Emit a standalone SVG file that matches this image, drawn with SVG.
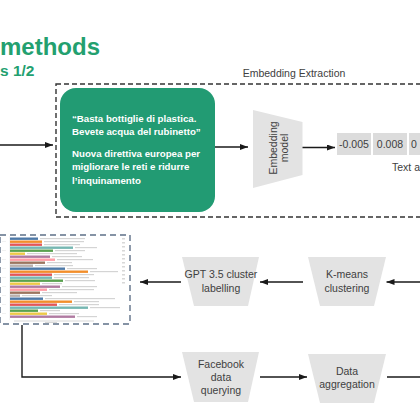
<svg xmlns="http://www.w3.org/2000/svg" width="420" height="420" viewBox="0 0 420 420">
<defs>
<marker id="ah" markerWidth="8" markerHeight="6" refX="8" refY="3" orient="auto" markerUnits="userSpaceOnUse">
<path d="M0,0 L8,3 L0,6 z" fill="#1a1a1a"/>
</marker>
<style>
.t{font-family:"Liberation Sans",Arial,sans-serif;fill:#404040;font-size:10.5px;text-anchor:middle}
.trap{fill:#e3e3e3}
.cell{fill:#dcdcdc}
.con{stroke:#1a1a1a;stroke-width:1.4;fill:none}
.arr{marker-end:url(#ah)}
.title{font-family:"Liberation Sans",Arial,sans-serif;font-weight:bold;fill:#23a06f}
.gt{font-family:"Liberation Sans",Arial,sans-serif;font-weight:bold;fill:#ffffff;font-size:9.7px}
.lbl{fill:#d4d4d4}
</style>
</defs>
<rect width="420" height="420" fill="#ffffff"/>

<g id="title">
<text class="title" x="0" y="55" font-size="24">methods</text>
<text class="title" x="0" y="76" font-size="15.5">s 1/2</text>
</g>

<g id="embedding-extraction">
<rect x="56" y="84" width="400" height="133" fill="none" stroke="#333" stroke-width="1.4" stroke-dasharray="5,3"/>
<text class="t" x="294" y="77" font-size="10">Embedding Extraction</text>
</g>

<g id="texts-box">
<rect x="60" y="88" width="155" height="124" rx="16" fill="#229b73"/>
<text class="gt" x="72" y="122">“Basta bottiglie di plastica.</text>
<text class="gt" x="72" y="135">Bevete acqua del rubinetto”</text>
<text class="gt" x="72" y="157">Nuova direttiva europea per</text>
<text class="gt" x="72" y="170">migliorare le reti e ridurre</text>
<text class="gt" x="72" y="184">l’inquinamento</text>
</g>

<g id="embedding-model">
<polygon class="trap" points="253,110 302.5,122 302.5,175 253,188"/>
<text class="t" transform="translate(276.5,148) rotate(-90)" font-size="11">Embedding</text>
<text class="t" transform="translate(287.5,148) rotate(-90)" font-size="11">model</text>
</g>

<g id="vector">
<rect class="cell" x="337" y="133" width="34" height="22"/>
<rect class="cell" x="373" y="133" width="34" height="22"/>
<rect class="cell" x="409" y="133" width="20" height="22"/>
<text class="t" x="354" y="147.5" font-size="8.6">-0.005</text>
<text class="t" x="390" y="147.5" font-size="8.6">0.008</text>
<text class="t" x="411" y="147.5" font-size="8.6" style="text-anchor:start">0</text>
<text class="t" x="392" y="171" font-size="9" style="text-anchor:start">Text a</text>
</g>

<g id="chart">
<rect x="0" y="235" width="130" height="89" fill="#ffffff"/>
<g fill="#eeeeee">
<rect x="9" y="236" width="0.6" height="84"/>
<rect x="2" y="241" width="4" height="0.8"/><rect x="2" y="250" width="4" height="0.8"/><rect x="2" y="259" width="4" height="0.8"/><rect x="2" y="268" width="4" height="0.8"/><rect x="2" y="277" width="4" height="0.8"/><rect x="2" y="286" width="4" height="0.8"/><rect x="2" y="295" width="4" height="0.8"/><rect x="2" y="304" width="4" height="0.8"/><rect x="2" y="313" width="4" height="0.8"/>
</g>
<g>
<rect x="10" y="237.5" width="28" height="2.4" fill="#4e79a7"/>
<rect x="10" y="240.5" width="32" height="2.4" fill="#f28e2b"/>
<rect x="10" y="243.5" width="32" height="2.4" fill="#e15759"/>
<rect x="10" y="246.5" width="63" height="2.4" fill="#76b7b2"/>
<rect x="10" y="249.5" width="43" height="2.4" fill="#59a14f"/>
<rect x="10" y="252.5" width="15" height="2.4" fill="#edc948"/>
<rect x="10" y="255.5" width="40" height="2.4" fill="#b07aa1"/>
<rect x="10" y="258.5" width="45" height="2.4" fill="#ff9da7"/>
<rect x="10" y="261.5" width="35" height="2.4" fill="#9c755f"/>
<rect x="10" y="264.5" width="23" height="2.4" fill="#bab0ac"/>
<rect x="10" y="267.5" width="55" height="2.4" fill="#4e79a7"/>
<rect x="10" y="270.5" width="78" height="2.4" fill="#f28e2b"/>
<rect x="10" y="273.5" width="42" height="2.4" fill="#e15759"/>
<rect x="10" y="276.5" width="42" height="2.4" fill="#76b7b2"/>
<rect x="10" y="279.5" width="53" height="2.4" fill="#59a14f"/>
<rect x="10" y="282.5" width="30" height="2.4" fill="#edc948"/>
<rect x="10" y="285.5" width="50" height="2.4" fill="#b07aa1"/>
<rect x="10" y="288.5" width="37" height="2.4" fill="#ff9da7"/>
<rect x="10" y="291.5" width="30" height="2.4" fill="#9c755f"/>
<rect x="10" y="294.5" width="10" height="2.4" fill="#bab0ac"/>
<rect x="10" y="297.5" width="33" height="2.4" fill="#4e79a7"/>
<rect x="10" y="300.5" width="62" height="2.4" fill="#f28e2b"/>
<rect x="10" y="303.5" width="47" height="2.4" fill="#e15759"/>
<rect x="10" y="306.5" width="78" height="2.4" fill="#76b7b2"/>
<rect x="10" y="309.5" width="28" height="2.4" fill="#59a14f"/>
<rect x="10" y="312.5" width="37" height="2.4" fill="#edc948"/>
<rect x="10" y="315.5" width="65" height="2.4" fill="#b07aa1"/>
</g>
<g class="lbl">
<rect x="40" y="238" width="45" height="1.2"/>
<rect x="44" y="241" width="40" height="1.2"/>
<rect x="44" y="244" width="36" height="1.2"/>
<rect x="75" y="247" width="22" height="1.2"/>
<rect x="55" y="250" width="30" height="1.2"/>
<rect x="27" y="253" width="50" height="1.2"/>
<rect x="52" y="256" width="30" height="1.2"/>
<rect x="57" y="259" width="36" height="1.2"/>
<rect x="47" y="262" width="25" height="1.2"/>
<rect x="35" y="265" width="38" height="1.2"/>
<rect x="67" y="268" width="30" height="1.2"/>
<rect x="90" y="271" width="28" height="1.2"/>
<rect x="54" y="274" width="40" height="1.2"/>
<rect x="54" y="277" width="35" height="1.2"/>
<rect x="65" y="280" width="30" height="1.2"/>
<rect x="42" y="283" width="20" height="1.2"/>
<rect x="62" y="286" width="35" height="1.2"/>
<rect x="49" y="289" width="45" height="1.2"/>
<rect x="42" y="292" width="35" height="1.2"/>
<rect x="22" y="295" width="30" height="1.2"/>
<rect x="45" y="298" width="70" height="1.2"/>
<rect x="74" y="301" width="25" height="1.2"/>
<rect x="59" y="304" width="40" height="1.2"/>
<rect x="90" y="307" width="30" height="1.2"/>
<rect x="40" y="310" width="20" height="1.2"/>
<rect x="49" y="313" width="30" height="1.2"/>
<rect x="77" y="316" width="20" height="1.2"/>
</g>
<g fill="#d8d8d8">
<rect x="122" y="238" width="3" height="1.5"/><rect x="122" y="242" width="3" height="1.5"/><rect x="122" y="246" width="3" height="1.5"/><rect x="122" y="250" width="3" height="1.5"/><rect x="122" y="254" width="3" height="1.5"/><rect x="122" y="258" width="3" height="1.5"/><rect x="122" y="262" width="3" height="1.5"/><rect x="122" y="266" width="3" height="1.5"/><rect x="122" y="270" width="3" height="1.5"/><rect x="122" y="274" width="3" height="1.5"/><rect x="122" y="278" width="3" height="1.5"/><rect x="122" y="282" width="3" height="1.5"/>
<rect x="14" y="320.5" width="80" height="1"/>
<rect x="45" y="322" width="12" height="1"/>
</g>
<rect x="0" y="235" width="130" height="89" fill="none" stroke="#5e7088" stroke-width="1.4" stroke-dasharray="6,4"/>
</g>

<g id="gpt-labelling">
<polygon class="trap" points="182,257 259,257 248,306 194,306"/>
<text class="t" x="221" y="278">GPT 3.5 cluster</text>
<text class="t" x="221" y="291.5">labelling</text>
</g>

<g id="kmeans">
<polygon class="trap" points="308,257 386,257 374,306 320,306"/>
<text class="t" x="347" y="278">K-means</text>
<text class="t" x="347" y="291.5">clustering</text>
</g>

<g id="facebook-querying">
<polygon class="trap" points="182,352 259,352 248,402 194,402"/>
<text class="t" x="221" y="368">Facebook</text>
<text class="t" x="221" y="381">data</text>
<text class="t" x="221" y="394">querying</text>
</g>

<g id="data-aggregation">
<polygon class="trap" points="308,354 386,354 374,403 320,403"/>
<text class="t" x="347" y="374.5">Data</text>
<text class="t" x="347" y="387.5">aggregation</text>
</g>

<g id="connectors">
<line class="con arr" x1="0" y1="145" x2="53" y2="145"/>
<line class="con arr" x1="215" y1="147" x2="248" y2="147"/>
<line class="con arr" x1="302.5" y1="147.5" x2="335" y2="147.5"/>
<line class="con arr" x1="420" y1="282" x2="386.5" y2="282"/>
<line class="con arr" x1="303" y1="282" x2="260" y2="282"/>
<line class="con arr" x1="181" y1="282" x2="140" y2="282"/>
<polyline class="con arr" points="22,325 22,377 181,377"/>
<line class="con arr" x1="260" y1="377" x2="307" y2="377"/>
<line class="con" x1="387" y1="377" x2="420" y2="377"/>
</g>
</svg>
